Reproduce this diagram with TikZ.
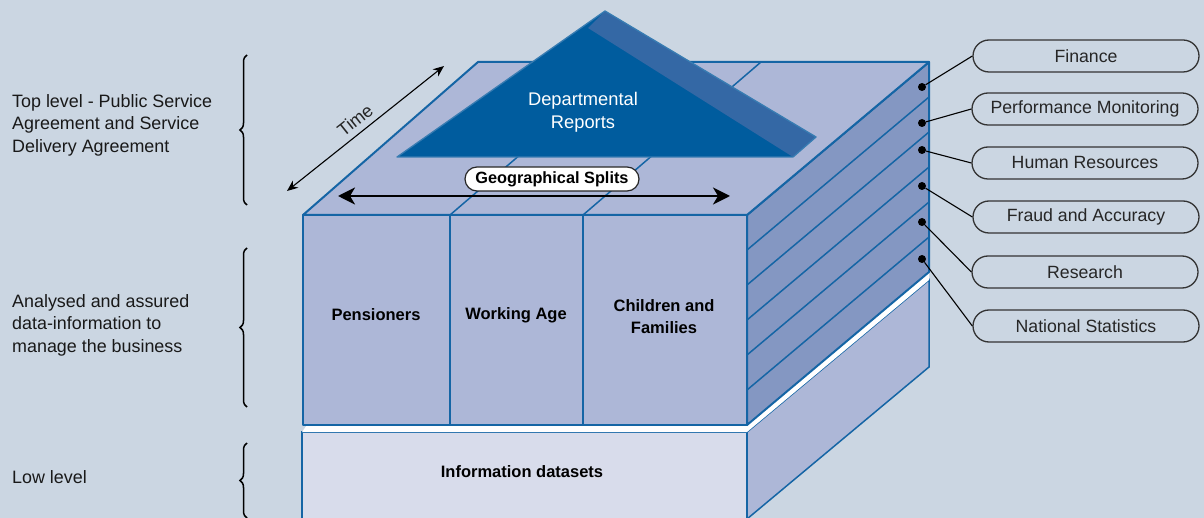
\documentclass[tikz,border=0pt]{standalone}
\usepackage{fontspec}
\setmainfont{Liberation Sans}
\usetikzlibrary{arrows.meta,decorations.pathreplacing}
\definecolor{bg}{HTML}{CBD6E2}
\definecolor{face}{HTML}{ADB7D7}
\definecolor{side}{HTML}{8497C2}
\definecolor{low}{HTML}{D8DCEB}
\definecolor{edge}{HTML}{1565A5}
\definecolor{tri}{HTML}{005C9E}
\definecolor{band}{HTML}{3468A5}
\begin{document}
\begin{tikzpicture}[x=1pt,y=-1pt,
  boxline/.style={draw=edge,line width=2pt,line join=round},
  thinline/.style={draw=edge,line width=1.5pt},
  celltext/.style={font=\fontsize{16.5}{22}\selectfont\bfseries,align=center,text=black},
  sidetext/.style={font=\fontsize{17.9}{22.5}\selectfont,align=left,anchor=west,inner sep=0pt,text=black!90},
  pill/.style={draw=black!80,line width=1.3pt,rounded corners=16pt,minimum width=226pt,minimum height=32pt,inner sep=0pt,font=\fontsize{17.7}{20}\selectfont,text=black!85},
  dot/.style={circle,fill=black,inner sep=0pt,minimum size=8pt},
  conn/.style={draw=black,line width=1.1pt},
  lbrace/.style={decorate,decoration={brace,amplitude=7pt},line width=1.5pt}
]
\fill[bg] (0,0) rectangle (1204,518);
\useasboundingbox (0,0) rectangle (1204,518);

% lower box
\filldraw[fill=face,thinline] (747,432) -- (929,280) -- (929,367) -- (747,519) -- (747,530) -- cycle;
\filldraw[fill=low,thinline] (302,432) rectangle (747,530);
\fill[white] (302,432) -- (307,425) -- (747,425) -- (929,272) -- (929,280) -- (747,432) -- cycle;

% upper box side face with stripes
\filldraw[fill=side,boxline] (747,215) -- (929,62) -- (929,272) -- (747,425) -- cycle;
\foreach \k in {1,...,5} \draw[thinline] (747,{215+35*\k}) -- (929,{62+35*\k});

% top face
\filldraw[fill=face,boxline] (303,215) -- (478,62) -- (929,62) -- (747,215) -- cycle;
\draw[thinline] (450,215) -- (628,62);
\draw[thinline] (583,215) -- (761,62);

% departmental reports triangle
\fill[tri] (397,157) -- (605,11) -- (816,137) -- (793,157) -- cycle;
\fill[band] (588,28) -- (605,11) -- (816,137) -- (793,157) -- cycle;
\draw[draw=edge!85!white,line width=1.3pt,line join=round] (397,157) -- (605,11) -- (816,137) -- (793,157) -- cycle;
\node[font=\fontsize{18.3}{23}\selectfont,text=white,align=center] (dept) at (583,112) {Departmental\\Reports};

% front faces
\filldraw[fill=face,boxline] (303,215) rectangle (450,425);
\filldraw[fill=face,boxline] (450,215) rectangle (583,425);
\filldraw[fill=face,boxline] (583,215) rectangle (747,425);
\node[celltext] (pens) at (376,315) {Pensioners};
\node[celltext] (work) at (516,315) {Working Age};
\node[celltext] (child) at (664,317) {Children and\\Families};
\node[celltext] (info) at (522,472) {Information datasets};

% geographical splits arrow
\coordinate (g1) at (338,196);
\coordinate (g2) at (730,196);
\draw[line width=2.5pt,{Stealth[length=17pt,width=17pt,inset=5pt]}-{Stealth[length=17pt,width=17pt,inset=5pt]}] (g1) -- (g2);
\node[draw=black!85,fill=white,rounded corners=12pt,minimum width=174pt,minimum height=24pt,inner sep=0pt,line width=1.2pt,font=\fontsize{16.3}{18}\selectfont\bfseries] (geo) at (552,179) {Geographical Splits};

% time arrow
\coordinate (t1) at (287,191);
\coordinate (t2) at (444,66);
\draw[line width=1.1pt,{Stealth[length=11pt,width=9pt]}-{Stealth[length=11pt,width=9pt]}] (t1) -- (t2);
\node[rotate=38.5,font=\fontsize{18}{20}\selectfont,text=black!85,inner sep=1pt] (time) at (355,120) {Time};

% right side labels
\node[pill] (fin) at (1086,56) {Finance};
\node[pill] (perf) at (1085,109) {Performance Monitoring};
\node[pill] (hr) at (1085,163) {Human Resources};
\node[pill] (fraud) at (1086,217) {Fraud and Accuracy};
\node[pill] (res) at (1085,272) {Research};
\node[pill] (nat) at (1086,326) {National Statistics};
\node[dot] (d1) at (922,87) {};
\node[dot] (d2) at (922,123) {};
\node[dot] (d3) at (922,150) {};
\node[dot] (d4) at (922,186) {};
\node[dot] (d5) at (922,222) {};
\node[dot] (d6) at (922,259) {};
\draw[conn] (d1) -- (fin.west);
\draw[conn] (d2) -- (perf.west);
\draw[conn] (d3) -- (hr.west);
\draw[conn] (d4) -- (fraud.west);
\draw[conn] (d5) -- (res.west);
\draw[conn] (d6) -- (nat.west);

% braces
\draw[lbrace] (247,205) -- (247,55);
\draw[lbrace] (247,407) -- (247,248);
\draw[lbrace] (247,518) -- (247,443);

% left labels
\node[sidetext] (toplbl) at (12,125) {Top level - Public Service\\Agreement and Service\\Delivery Agreement};
\node[sidetext] (midlbl) at (12,325) {Analysed and assured\\data-information to\\manage the business};
\node[sidetext] (lowlbl) at (12,477) {Low level};
\end{tikzpicture}
\end{document}
